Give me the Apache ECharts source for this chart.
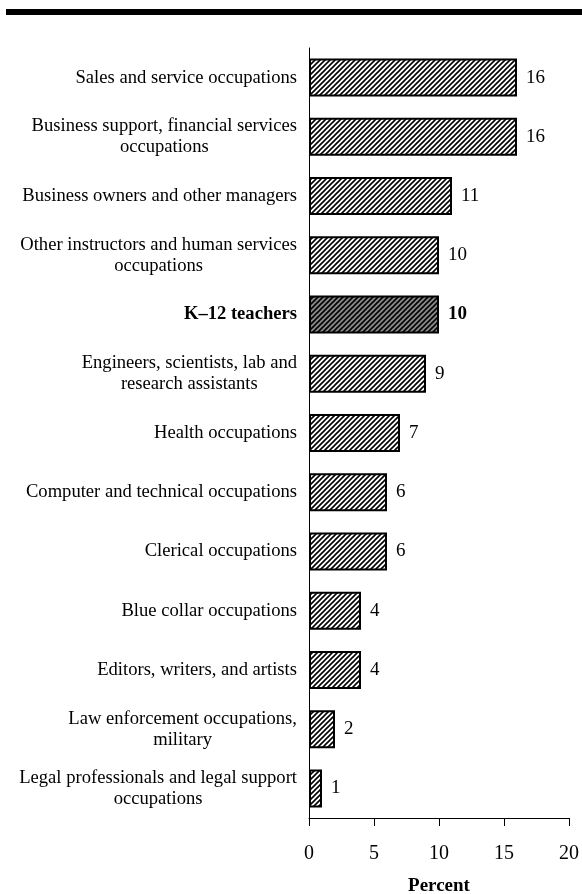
<!DOCTYPE html>
<html><head><meta charset="utf-8">
<script src="https://cdn.jsdelivr.net/npm/echarts@6/dist/echarts.min.js"></script>
<style>html,body{margin:0;padding:0;background:#fff}#c{width:582px;height:894px}</style>
</head><body><div id="c"></div>
<script>
const categories = [
  "Sales and service occupations",
  "Business support, financial services\noccupations",
  "Business owners and other managers",
  "Other instructors and human services\noccupations",
  "K\u201312 teachers",
  "Engineers, scientists, lab and\nresearch assistants",
  "Health occupations",
  "Computer and technical occupations",
  "Clerical occupations",
  "Blue collar occupations",
  "Editors, writers, and artists",
  "Law enforcement occupations,\nmilitary",
  "Legal professionals and legal support\noccupations"
];
const values = [16, 16, 11, 10, 10, 9, 7, 6, 6, 4, 4, 2, 1];
const highlight = "K\u201312 teachers";
const xTicks = [0, 5, 10, 15, 20];

function hatch(bg) {
  const c = document.createElement('canvas');
  c.width = 5; c.height = 5;
  const g = c.getContext('2d');
  g.fillStyle = bg; g.fillRect(0, 0, 5, 5);
  g.strokeStyle = '#000'; g.lineWidth = 1.6;
  g.beginPath();
  g.moveTo(-1, 6); g.lineTo(6, -1);
  g.moveTo(-1, 1); g.lineTo(1, -1);
  g.moveTo(4, 6); g.lineTo(6, 4);
  g.stroke();
  return { image: c, repeat: 'repeat' };
}
const plain = hatch('#ffffff');
const dark = hatch('#8a8a8a');

const cats = categories.slice().reverse();
const vals = values.slice().reverse();
const font = '"Liberation Serif", "Times New Roman", serif';
const fs = 18.6;

const chart = echarts.init(document.getElementById('c'), null, { renderer: 'canvas' });
chart.setOption({
  animation: false,
  backgroundColor: '#fff',
  grid: { left: 309, right: 13, top: 48, bottom: 76, containLabel: false, outerBoundsMode: 'none' },
  xAxis: {
    type: 'value', min: 0, max: 20, interval: 5,
    name: 'Percent', nameLocation: 'middle', nameGap: 59,
    nameTextStyle: { fontFamily: font, fontWeight: 'bold', fontSize: 19, color: '#000' },
    axisLine: { show: true, lineStyle: { color: '#000', width: 1 } },
    axisTick: { show: true, length: 8, lineStyle: { color: '#000' } },
    axisLabel: { fontFamily: font, fontSize: 20, color: '#000', margin: 26,
      formatter: v => xTicks.includes(v) ? String(v) : '' },
    splitLine: { show: false }
  },
  yAxis: {
    type: 'category', data: cats,
    axisLine: { show: true, lineStyle: { color: '#000', width: 1 } },
    axisTick: { show: false },
    axisLabel: {
      margin: 12, align: 'right', color: '#000',
      fontFamily: font, fontSize: fs, lineHeight: 21,
      formatter: v => v.split('\n').map(l => v === highlight ? '{h|' + l + '}' : '{c|' + l + '}').join('\n'),
      rich: {
        c: { align: 'center', fontFamily: font, fontSize: fs, lineHeight: 21, color: '#000' },
        h: { align: 'center', fontFamily: font, fontSize: fs, lineHeight: 21, fontWeight: 'bold', color: '#000' }
      }
    }
  },
  series: [{
    type: 'bar',
    barWidth: 38,
    data: vals.map((v, i) => ({
      value: v,
      itemStyle: { color: cats[i] === highlight ? dark : plain, borderColor: '#000', borderWidth: 2 },
      label: { fontWeight: cats[i] === highlight ? 'bold' : 'normal' }
    })),
    label: { show: true, position: 'right', distance: 9, fontFamily: font, fontSize: 19, color: '#000' }
  }],
  graphic: [{ type: 'rect', shape: { x: 6, y: 9, width: 576, height: 6 }, style: { fill: '#000' } }]
});
</script></body></html>
